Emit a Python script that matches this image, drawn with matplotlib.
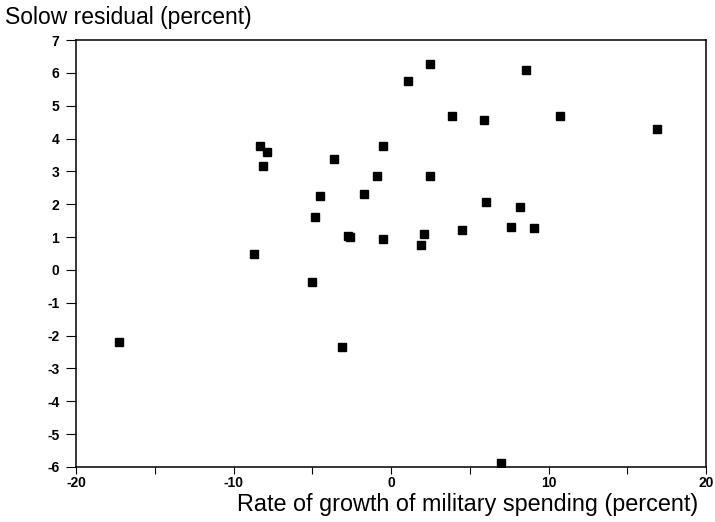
import numpy as np
import matplotlib
matplotlib.use("Agg")
import matplotlib.pyplot as plt
from matplotlib.ticker import MultipleLocator

plt.rcParams['font.family'] = ['Liberation Sans', 'DejaVu Sans']
plt.rcParams['axes.unicode_minus'] = False

# growth of military spending (percent) vs Solow residual (percent)
mil_growth = [-17.3, -8.7, -8.3, -7.9, -8.1, -3.6, -4.5, -4.8, -5.0, -2.7,
              -2.6, -3.1, 2.5, 1.1, 8.6, 3.9, 5.9, 10.7, 16.9, -0.5,
              -0.9, 2.5, -1.7, 6.0, 8.2, -0.5, 2.1, 1.9, 4.5, 7.6,
              9.1, 7.0]
solow_resid = [-2.18, 0.49, 3.76, 3.59, 3.15, 3.37, 2.26, 1.62, -0.38, 1.04,
               1.01, -2.34, 6.26, 5.75, 6.09, 4.68, 4.56, 4.70, 4.30, 3.77,
               2.85, 2.85, 2.32, 2.06, 1.91, 0.94, 1.09, 0.77, 1.21, 1.30,
               1.27, -5.89]

fig = plt.figure(figsize=(7.15, 5.22), dpi=100)
ax = fig.add_axes([76/715, 1-467/522, 630/715, 427/522])

ax.plot(mil_growth, solow_resid, 's', color='black', markersize=6)

ax.set_xlim(-20, 20)
ax.set_ylim(-6, 7)
ax.xaxis.set_major_locator(MultipleLocator(10))
ax.xaxis.set_minor_locator(MultipleLocator(5))
ax.yaxis.set_major_locator(MultipleLocator(1))
ax.tick_params(axis='x', which='both', direction='out', length=5, width=0.8, pad=1.5, labelsize=10)
ax.tick_params(axis='y', direction='out', length=7, width=0.8, pad=5, labelsize=10)
for lab in ax.get_xticklabels() + ax.get_yticklabels():
    lab.set_fontweight('bold')
for s in ax.spines.values():
    s.set_linewidth(1.1)

fig.text(5/715, 1-24/522, "Solow residual (percent)", fontsize=16.5, va='baseline', ha='left')
fig.text(698/715, 1-511/522, "Rate of growth of military spending (percent)",
         fontsize=16.8, va='baseline', ha='right')

fig.savefig("out.png", dpi=100)
